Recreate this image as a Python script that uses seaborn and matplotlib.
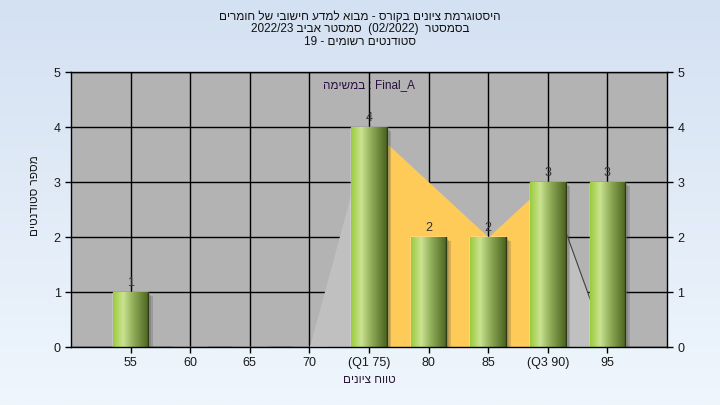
import re
import numpy as np
import matplotlib
matplotlib.use("Agg")
import matplotlib.pyplot as plt
import seaborn as sns
from matplotlib.colors import LinearSegmentedColormap


# =========================
# Data
# =========================

tick_labels = ["55", "60", "65", "70", "(Q1 75)", "80", "85", "(Q3 90)", "95"]
counts = [1, 0, 0, 0, 4, 2, 2, 3, 3]

# frequency polygon (grey) and inter-quartile part (orange), by category position
poly_pos = [3, 4, 5, 6, 7, 8]
poly_vals = [0, 4, 3, 2, 3, 0]
iqr_pos = [4, 5, 6, 7]
iqr_vals = [4, 3, 2, 3]

title_lines = [
    "היסטוגרמת ציונים בקורס - מבוא למדע חישובי של חומרים",
    "בסמסטר  (02/2022)  סמסטר אביב 2022/23",
    "סטודנטים רשומים - 19",
]
task_text = "Final_A : במשימה"
x_title = "טווח ציונים"
y_title = "מספר סטודנטים"


# matplotlib has no bidi support: build the visual (left to right) order
# of a right-to-left line by hand
def rtl(s):
    parts = re.split(r"([A-Za-z0-9_]+(?:[/.][A-Za-z0-9_]+)*)", s)
    out = []
    for i, p in enumerate(parts):
        if i % 2 == 1:
            out.append(p)
        else:
            p = p[::-1].translate(str.maketrans("()", ")("))
            out.append(p)
    return "".join(out[::-1])


# =========================
# Style
# =========================

sns.set_style("white")
plt.rcParams["font.family"] = ["Liberation Sans", "DejaVu Sans"]
plt.rcParams["text.color"] = "#1a1a1a"

fig = plt.figure(figsize=(7.2, 4.05), dpi=100)

# background gradient
bg = fig.add_axes([0, 0, 1, 1], zorder=-10)
bg_cmap = LinearSegmentedColormap.from_list("bg", ["#d4e1f2", "#eff6fd"])
bg.imshow(np.linspace(0, 1, 256)[:, None], cmap=bg_cmap, aspect="auto",
          extent=[0, 1, 0, 1])
bg.axis("off")

ax = fig.add_axes([0.0986, 0.1432, 0.8278, 0.679])
ax.set_facecolor("#b3b3b3")


# =========================
# Bars
# =========================

sns.barplot(x=tick_labels, y=counts, order=tick_labels, width=0.6,
            color="#9ccd3f", ax=ax, zorder=4)

bar_cmap = LinearSegmentedColormap.from_list(
    "cyl", [(0.0, "#9acb3c"), (0.28, "#cbe391"), (0.55, "#93b05b"),
            (1.0, "#4a631f")])
grad = np.linspace(0, 1, 128)[None, :]

for patch, c in zip(ax.patches, counts):
    if c == 0:
        continue
    x0 = patch.get_x()
    w = patch.get_width()
    h = patch.get_height()
    # soft shadow
    for k, a in enumerate([0.18, 0.18, 0.2]):
        d = 0.025 * (k + 1)
        ax.add_patch(plt.Rectangle((x0 + d, -d), w, h, color="#3a3a3a",
                                   alpha=a, zorder=3, lw=0))
    im = ax.imshow(grad, cmap=bar_cmap, aspect="auto",
                   extent=[x0, x0 + w, 0, h], zorder=5)
    im.set_clip_path(patch)
    ax.plot([x0 + w, x0 + w], [0, h], color="#2e3b15", lw=1, zorder=6)

ax.bar_label(ax.containers[0],
             labels=[str(c) if c > 0 else "" for c in counts],
             padding=2, fontsize=9, color="#333333")


# =========================
# Areas
# =========================

ax.fill_between(poly_pos, poly_vals, color="#c0c0c0", lw=0, zorder=1)
ax.fill_between(iqr_pos, iqr_vals, color="#fecb58", lw=0, zorder=1.5)
ax.plot(poly_pos[-2:], poly_vals[-2:], color="#404040", lw=0.8, zorder=1.6)


# =========================
# Axes
# =========================

ax.set_xlim(-1, 9)
ax.set_ylim(0, 5)
ax.set_yticks(range(6))
ax.grid(True, color="black", lw=1)
ax.set_axisbelow(True)
for s in ax.spines.values():
    s.set_visible(True)
    s.set_color("black")
    s.set_linewidth(1)
    s.set_zorder(7)

ax.tick_params(axis="both", length=4, width=1, color="black",
               labelsize=9, labelcolor="#1a1a1a", direction="out",
               bottom=True, left=True)
ax.tick_params(axis="y", right=True, labelright=True)

ax.set_xlabel("")
ax.set_ylabel("")
fig.text(0.5125, 0.062, rtl(x_title), ha="center", va="center", fontsize=8.5,
         color="#2a1a3a")
fig.text(0.049, 0.517, rtl(y_title), ha="center", va="center", fontsize=8.5,
         rotation=90, color="#1a1a1a")

ax.text(4, 4.76, rtl(task_text), ha="center", va="center", fontsize=8.5,
        color="#2a1040", zorder=8)

fig.text(0.5, 0.928, "\n".join(rtl(t) for t in title_lines), ha="center",
         va="center", fontsize=8.5, linespacing=1.05, color="#111111")

plt.savefig("out.png", dpi=100)
plt.close()
